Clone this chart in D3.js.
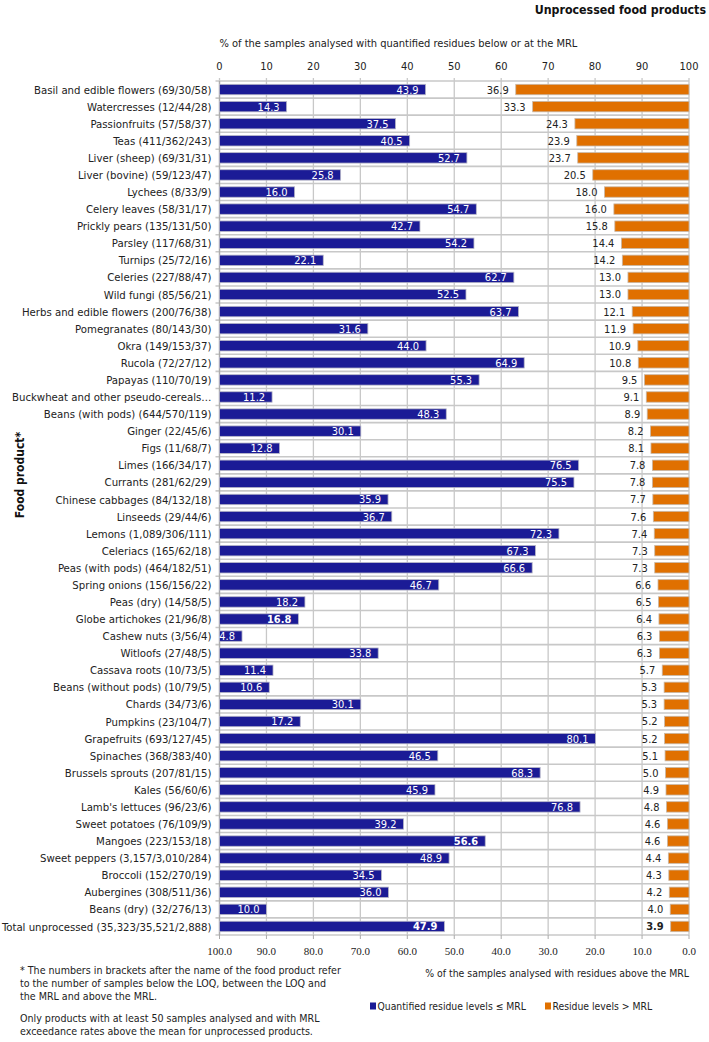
<!DOCTYPE html>
<html>
<head>
<meta charset="utf-8">
<script src="https://cdn.jsdelivr.net/npm/d3@7"></script>
<style>
body { margin: 0; background: #fff; }
text { font-family: 'DejaVu Sans Condensed', 'DejaVu Sans', sans-serif; }
</style>
</head>
<body>
<svg id="chart" width="709" height="1042"></svg>
<script>
// food products, brackets = samples below LOQ / between LOQ and MRL / above MRL
const products = [
  'Basil and edible flowers (69/30/58)', 'Watercresses (12/44/28)', 'Passionfruits (57/58/37)',
  'Teas (411/362/243)', 'Liver (sheep) (69/31/31)', 'Liver (bovine) (59/123/47)', 'Lychees (8/33/9)',
  'Celery leaves (58/31/17)', 'Prickly pears (135/131/50)', 'Parsley (117/68/31)', 'Turnips (25/72/16)',
  'Celeries (227/88/47)', 'Wild fungi (85/56/21)', 'Herbs and edible flowers (200/76/38)',
  'Pomegranates (80/143/30)', 'Okra (149/153/37)', 'Rucola (72/27/12)', 'Papayas (110/70/19)',
  'Buckwheat and other pseudo-cereals…', 'Beans (with pods) (644/570/119)', 'Ginger (22/45/6)',
  'Figs (11/68/7)', 'Limes (166/34/17)', 'Currants (281/62/29)', 'Chinese cabbages (84/132/18)',
  'Linseeds (29/44/6)', 'Lemons (1,089/306/111)', 'Celeriacs (165/62/18)', 'Peas (with pods) (464/182/51)',
  'Spring onions (156/156/22)', 'Peas (dry) (14/58/5)', 'Globe artichokes (21/96/8)', 'Cashew nuts (3/56/4)',
  'Witloofs (27/48/5)', 'Cassava roots (10/73/5)', 'Beans (without pods) (10/79/5)', 'Chards (34/73/6)',
  'Pumpkins (23/104/7)', 'Grapefruits (693/127/45)', 'Spinaches (368/383/40)', 'Brussels sprouts (207/81/15)',
  'Kales (56/60/6)', "Lamb's lettuces (96/23/6)", 'Sweet potatoes (76/109/9)', 'Mangoes (223/153/18)',
  'Sweet peppers (3,157/3,010/284)', 'Broccoli (152/270/19)', 'Aubergines (308/511/36)',
  'Beans (dry) (32/276/13)', 'Total unprocessed (35,323/35,521/2,888)'
];

// % quantified residues <= MRL
const belowMrl = [43.9, 14.3, 37.5, 40.5, 52.7, 25.8, 16.0, 54.7, 42.7, 54.2, 22.1, 62.7, 52.5, 63.7,
  31.6, 44.0, 64.9, 55.3, 11.2, 48.3, 30.1, 12.8, 76.5, 75.5, 35.9, 36.7, 72.3, 67.3, 66.6, 46.7,
  18.2, 16.8, 4.8, 33.8, 11.4, 10.6, 30.1, 17.2, 80.1, 46.5, 68.3, 45.9, 76.8, 39.2, 56.6, 48.9,
  34.5, 36.0, 10.0, 47.9];

// % residues > MRL
const aboveMrl = [36.9, 33.3, 24.3, 23.9, 23.7, 20.5, 18.0, 16.0, 15.8, 14.4, 14.2, 13.0, 13.0, 12.1,
  11.9, 10.9, 10.8, 9.5, 9.1, 8.9, 8.2, 8.1, 7.8, 7.8, 7.7, 7.6, 7.4, 7.3, 7.3, 6.6,
  6.5, 6.4, 6.3, 6.3, 5.7, 5.3, 5.3, 5.2, 5.2, 5.1, 5.0, 4.9, 4.8, 4.6, 4.6, 4.4,
  4.3, 4.2, 4.0, 3.9];

// labels printed in bold in the original
const boldBelow = ['Globe artichokes (21/96/8)', 'Mangoes (223/153/18)', 'Total unprocessed (35,323/35,521/2,888)'];
const boldAbove = ['Total unprocessed (35,323/35,521/2,888)'];

const topTicks = [0, 10, 20, 30, 40, 50, 60, 70, 80, 90, 100];
const bottomTicks = [100, 90, 80, 70, 60, 50, 40, 30, 20, 10, 0];

const rows = products.map((p, i) => ({ name: p, below: belowMrl[i], above: aboveMrl[i] }));

const svg = d3.select('#chart');
const plotLeft = 219.5, plotRight = 689, plotTop = 81, plotBottom = 935;

const x = d3.scaleLinear().domain([0, 100]).range([plotLeft, plotRight]);
const xRev = d3.scaleLinear().domain([100, 0]).range([plotLeft, plotRight]);
const y = d3.scaleBand().domain(products).range([plotTop, plotBottom]).paddingInner(0.39).paddingOuter(0.195);
const yLines = d3.scaleBand().domain(products).range([plotTop, plotBottom]);

const blue = '#1b1b96';
const orange = '#e07000';
const grid = '#c8c8c8';

//grid - vertical
svg.append('g').selectAll('line')
  .data(topTicks)
  .enter()
  .append('line')
  .attr('x1', d => x(d)).attr('x2', d => x(d))
  .attr('y1', plotTop - 3).attr('y2', plotBottom)
  .attr('stroke', grid)
  .attr('stroke-width', 1.3);

//grid - horizontal (between rows)
svg.append('g').selectAll('line')
  .data(products.concat(['__end']))
  .enter()
  .append('line')
  .attr('x1', plotLeft - 4).attr('x2', plotRight)
  .attr('y1', d => d === '__end' ? plotBottom : yLines(d))
  .attr('y2', d => d === '__end' ? plotBottom : yLines(d))
  .attr('stroke', grid)
  .attr('stroke-width', 1.6);

// left axis line
svg.append('line')
  .attr('x1', plotLeft).attr('x2', plotLeft).attr('y1', plotTop).attr('y2', plotBottom)
  .attr('stroke', '#aaa').attr('stroke-width', 1.3);

// bottom axis ticks
svg.append('g').selectAll('line')
  .data(bottomTicks)
  .enter()
  .append('line')
  .attr('x1', d => xRev(d)).attr('x2', d => xRev(d))
  .attr('y1', plotBottom).attr('y2', plotBottom + 4)
  .attr('stroke', '#aaa');

//blue bars
svg.append('g').selectAll('rect')
  .data(rows)
  .enter()
  .append('rect')
  .attr('x', x(0))
  .attr('y', d => y(d.name))
  .attr('width', d => x(d.below) - x(0))
  .attr('height', y.bandwidth())
  .attr('fill', blue)
  .attr('stroke', '#b8b8c8')
  .attr('stroke-width', 0.8);

//orange bars
svg.append('g').selectAll('rect')
  .data(rows)
  .enter()
  .append('rect')
  .attr('x', d => xRev(d.above))
  .attr('y', d => y(d.name))
  .attr('width', d => xRev(0) - xRev(d.above))
  .attr('height', y.bandwidth())
  .attr('fill', orange)
  .attr('stroke', '#c8b8a8')
  .attr('stroke-width', 0.8);

//value labels
svg.append('g').selectAll('text')
  .data(rows)
  .enter()
  .append('text')
  .attr('x', d => x(d.below) - 7)
  .attr('y', d => y(d.name) + y.bandwidth() / 2)
  .attr('dy', '0.36em')
  .attr('text-anchor', 'end')
  .attr('fill', '#fff')
  .attr('font-size', 11)
  .attr('font-weight', d => boldBelow.includes(d.name) ? 'bold' : 'normal')
  .text(d => d.below.toFixed(1));

svg.append('g').selectAll('text')
  .data(rows)
  .enter()
  .append('text')
  .attr('x', d => xRev(d.above) - 7)
  .attr('y', d => y(d.name) + y.bandwidth() / 2)
  .attr('dy', '0.36em')
  .attr('text-anchor', 'end')
  .attr('fill', '#222')
  .attr('font-size', 11)
  .attr('font-weight', d => boldAbove.includes(d.name) ? 'bold' : 'normal')
  .text(d => d.above.toFixed(1));

// category labels
svg.append('g').selectAll('text')
  .data(rows)
  .enter()
  .append('text')
  .attr('x', plotLeft - 8)
  .attr('y', d => y(d.name) + y.bandwidth() / 2)
  .attr('dy', '0.36em')
  .attr('text-anchor', 'end')
  .attr('fill', '#222')
  .attr('font-size', 11.3)
  .text(d => d.name);

// top tick labels
svg.append('g').selectAll('text')
  .data(topTicks)
  .enter()
  .append('text')
  .attr('x', d => x(d))
  .attr('y', 70)
  .attr('text-anchor', 'middle')
  .attr('fill', '#222')
  .attr('font-size', 11)
  .text(d => d);

// bottom tick labels (serif in original)
svg.append('g').selectAll('text')
  .data(bottomTicks)
  .enter()
  .append('text')
  .attr('x', d => xRev(d))
  .attr('y', 955)
  .attr('text-anchor', 'middle')
  .attr('fill', '#222')
  .attr('font-size', 11)
  .style('font-family', "'Liberation Serif', serif")
  .text(d => d.toFixed(1));

// titles
svg.append('text')
  .attr('x', 706).attr('y', 14)
  .attr('text-anchor', 'end')
  .attr('font-size', 12.3).attr('font-weight', 'bold')
  .attr('fill', '#111')
  .text('Unprocessed food products');

svg.append('text')
  .attr('x', plotLeft).attr('y', 47)
  .attr('font-size', 11).attr('fill', '#222')
  .text('% of the samples analysed with quantified residues below or at the MRL');

svg.append('text')
  .attr('x', plotRight).attr('y', 977)
  .attr('text-anchor', 'end')
  .attr('font-size', 10.4).attr('fill', '#222')
  .text('% of the samples analysed with residues above the MRL');

svg.append('text')
  .attr('transform', 'translate(24,475) rotate(-90)')
  .attr('text-anchor', 'middle')
  .attr('font-size', 12).attr('font-weight', 'bold')
  .attr('fill', '#111')
  .text('Food product*');

// footnotes
const notes = [
  { t: '* The numbers in brackets after the name of the food product refer', y: 974 },
  { t: 'to the number of samples below the LOQ, between the LOQ and', y: 987 },
  { t: 'the MRL and above the MRL.', y: 1000 },
  { t: 'Only products with at least 50 samples analysed and with MRL', y: 1022 },
  { t: 'exceedance rates above the mean for unprocessed products.', y: 1035 }
];
svg.append('g').selectAll('text')
  .data(notes)
  .enter()
  .append('text')
  .attr('x', 20)
  .attr('y', d => d.y)
  .attr('font-size', 10.6)
  .attr('fill', '#222')
  .text(d => d.t);

// legend
const legendItems = [
  { label: 'Quantified residue levels ≤ MRL', color: blue, x: 370 },
  { label: 'Residue levels > MRL', color: orange, x: 545 }
];
const lg = svg.append('g').selectAll('g')
  .data(legendItems)
  .enter()
  .append('g')
  .attr('transform', d => `translate(${d.x},1010)`);
lg.append('rect').attr('x', 0).attr('y', -7.5).attr('width', 6).attr('height', 7).attr('fill', d => d.color);
lg.append('text').attr('x', 7.5).attr('y', 0).attr('font-size', 10.3).attr('fill', '#222').text(d => d.label);
</script>
</body>
</html>
